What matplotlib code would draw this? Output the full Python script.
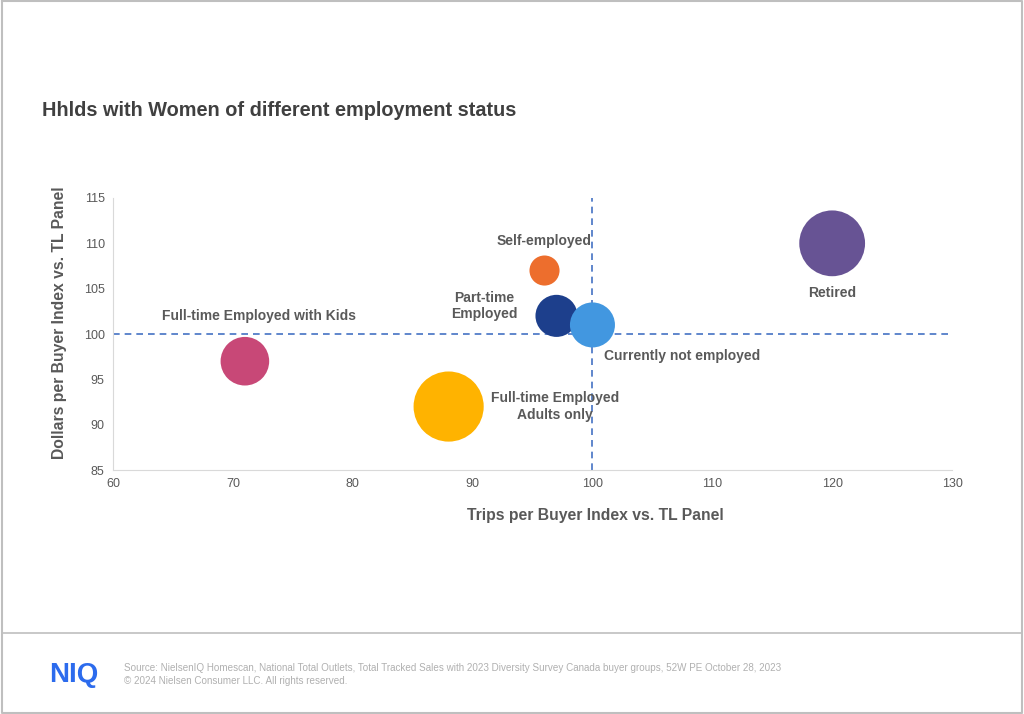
import matplotlib
matplotlib.use('Agg')
import matplotlib.pyplot as plt
from matplotlib.lines import Line2D

plt.rcParams['font.family'] = ['Liberation Sans', 'DejaVu Sans']

# bubble data
groups = ['Full-time Employed with Kids', 'Full-time Employed\nAdults only', 'Self-employed',
          'Part-time\nEmployed', 'Currently not employed', 'Retired']
trips_index = [71, 88, 96, 97, 100, 120]
dollars_index = [97, 92, 107, 102, 101, 110]
bubble_share = [12, 25, 4.6, 9, 10.3, 22]
colors = ['#C84877', '#FFB300', '#ED6E2D', '#1D3F8C', '#4297E0', '#675394']

# label placement (data coords) and alignment
label_x = [72.2, 96.9, 96.0, 91.0, 101.0, 120.0]
label_y = [102.0, 92.0, 110.3, 103.1, 97.6, 104.5]
label_ha = ['center', 'center', 'center', 'center', 'left', 'center']

x_ticks = [60, 70, 80, 90, 100, 110, 120, 130]
y_ticks = [85, 90, 95, 100, 105, 110, 115]

text_gray = '#595959'

fig = plt.figure(figsize=(10.24, 7.14), dpi=100)
ax = fig.add_axes([0.1104, 0.3417, 0.8193, 0.381])

ax.axhline(100, color='#4472C4', linestyle=(0, (4, 3)), linewidth=1.2, zorder=1)
ax.axvline(100, color='#4472C4', linestyle=(0, (4, 3)), linewidth=1.2, zorder=1)

ax.scatter(trips_index, dollars_index, s=[v * 102 for v in bubble_share],
           c=colors, edgecolors='none', zorder=3)

for name, lx, ly, ha in zip(groups, label_x, label_y, label_ha):
    ax.text(lx, ly, name, ha=ha, va='center', fontsize=10, fontweight='bold',
            color=text_gray, linespacing=1.25, zorder=4)

ax.set_xlim(60, 130)
ax.set_ylim(85, 115)
ax.set_xticks(x_ticks)
ax.set_yticks(y_ticks)
ax.tick_params(length=0, labelsize=9, labelcolor=text_gray, pad=6)
for side in ['top', 'right']:
    ax.spines[side].set_visible(False)
for side in ['left', 'bottom']:
    ax.spines[side].set_color('#D9D9D9')

ax.set_xlabel('Trips per Buyer Index vs. TL Panel', fontsize=11.3, fontweight='bold',
              color=text_gray, labelpad=14)
ax.xaxis.set_label_coords(0.575, -0.14)
ax.set_ylabel('Dollars per Buyer Index vs. TL Panel', fontsize=11.3, fontweight='bold',
              color=text_gray, labelpad=12)
ax.yaxis.set_label_coords(-0.055, 0.54)

fig.text(0.041, 0.845, 'Hhlds with Women of different employment status', fontsize=14.3,
         fontweight='bold', color='#404040', va='center')

# page frame and footer
frame = '#BFBFBF'
fig.add_artist(Line2D([0.002, 0.998, 0.998, 0.002, 0.002], [0.998, 0.998, 0.002, 0.002, 0.998],
                      color=frame, linewidth=1.5, transform=fig.transFigure))
fig.add_artist(Line2D([0.002, 0.998], [1 - 633 / 714, 1 - 633 / 714],
                      color=frame, linewidth=1.2, transform=fig.transFigure))

fig.text(0.048, 1 - 675 / 714, 'NIQ', fontsize=20, fontweight='bold', color='#2C6BED',
         va='center', ha='left')
fig.text(0.121, 1 - 668 / 714,
         'Source: NielsenIQ Homescan, National Total Outlets, Total Tracked Sales with 2023 Diversity '
         'Survey Canada buyer groups, 52W PE October 28, 2023',
         fontsize=7.1, color='#B0B0B0', va='center')
fig.text(0.121, 1 - 681 / 714, '\u00a9 2024 Nielsen Consumer LLC. All rights reserved.',
         fontsize=7.1, color='#B0B0B0', va='center')

fig.savefig('out.png', dpi=100)
